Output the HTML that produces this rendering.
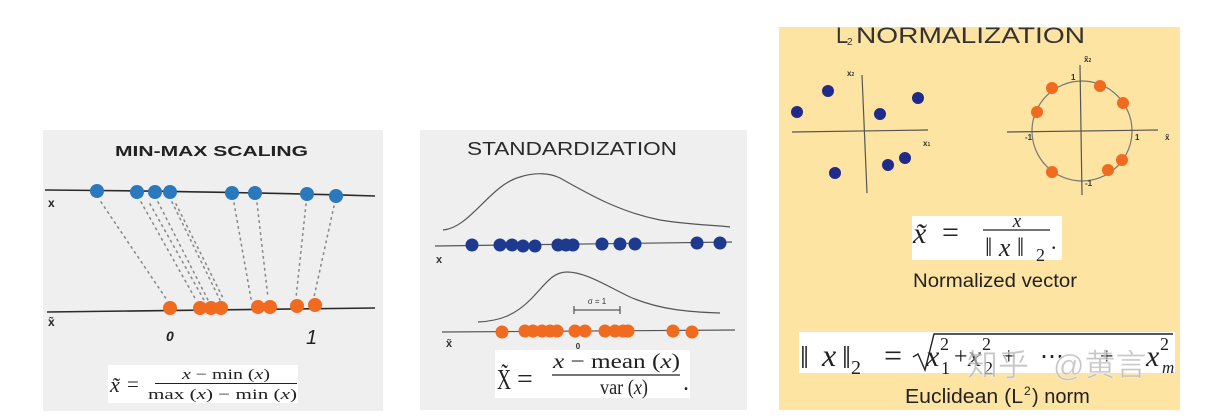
<!DOCTYPE html>
<html><head><meta charset="utf-8"><style>
html,body{margin:0;padding:0;background:#fff;width:1206px;height:420px;overflow:hidden}
svg{display:block}
</style></head><body>
<svg width="1206" height="420" viewBox="0 0 1206 420" xmlns="http://www.w3.org/2000/svg">
<defs>
<clipPath id="cp3"><rect x="779" y="27" width="401" height="383"/></clipPath>
</defs>
<rect width="1206" height="420" fill="#fff"/>

<!-- ================= LEFT PANEL ================= -->
<rect x="43" y="130" width="340" height="281" fill="#efefef"/>
<text x="115" y="156" font-family="Liberation Sans, sans-serif" font-size="15" font-weight="bold" fill="#222" textLength="193" lengthAdjust="spacingAndGlyphs">MIN-MAX SCALING</text>

<path d="M45,190 Q200,191 375,196" stroke="#2a2a2a" stroke-width="1.6" fill="none"/>
<text x="48" y="207" font-family="Liberation Sans, sans-serif" font-size="12" font-weight="bold" fill="#222">x</text>

<g stroke="#8a8a8a" stroke-width="1.6" stroke-dasharray="1.5,4.5" stroke-linecap="round" fill="none">
<line x1="101" y1="202" x2="167" y2="300"/>
<line x1="141" y1="202" x2="196" y2="300"/>
<line x1="150" y1="204" x2="204" y2="300"/>
<line x1="158" y1="202" x2="208" y2="300"/>
<line x1="172" y1="202" x2="220" y2="300"/>
<line x1="176" y1="204" x2="224" y2="300"/>
<line x1="234" y1="203" x2="251" y2="299"/>
<line x1="257" y1="203" x2="268" y2="298"/>
<line x1="306" y1="204" x2="296" y2="298"/>
<line x1="334" y1="206" x2="314" y2="297"/>
</g>

<g fill="#2b79bd">
<circle cx="97" cy="191" r="7"/>
<circle cx="137" cy="192" r="7"/>
<circle cx="155" cy="192" r="7"/>
<circle cx="170" cy="192" r="7"/>
<circle cx="232" cy="193" r="7"/>
<circle cx="255" cy="193" r="7"/>
<circle cx="307" cy="194" r="7"/>
<circle cx="336" cy="196" r="7"/>
</g>

<path d="M47,312 Q200,310 375,308" stroke="#2a2a2a" stroke-width="1.6" fill="none"/>
<g fill="#f06a1f">
<circle cx="170" cy="308" r="7"/>
<circle cx="200" cy="308" r="7"/>
<circle cx="211" cy="308" r="7"/>
<circle cx="221" cy="308" r="7"/>
<circle cx="258" cy="307" r="7"/>
<circle cx="270" cy="307" r="7"/>
<circle cx="297" cy="306" r="7"/>
<circle cx="315" cy="305" r="7"/>
</g>
<text x="48" y="326" font-family="Liberation Sans, sans-serif" font-size="12" font-weight="bold" fill="#222">x̃</text>
<text x="166" y="341" font-family="Liberation Sans, sans-serif" font-size="14" font-style="italic" font-weight="bold" fill="#222">0</text>
<text x="306" y="344" font-family="Liberation Sans, sans-serif" font-size="20" font-style="italic" fill="#222">1</text>

<rect x="108" y="365" width="190" height="38" fill="#fff"/>
<g font-family="Liberation Serif, serif" fill="#222">
<text x="110" y="392" font-size="22" font-style="italic">x̃</text>
<text x="127" y="391" font-size="21">=</text>
<text x="182" y="379" font-size="15" textLength="88" lengthAdjust="spacingAndGlyphs"><tspan font-style="italic">x</tspan> − min (<tspan font-style="italic">x</tspan>)</text>
<line x1="155" y1="383.5" x2="297" y2="383.5" stroke="#222" stroke-width="1"/>
<text x="148" y="399" font-size="15" textLength="149" lengthAdjust="spacingAndGlyphs">max (<tspan font-style="italic">x</tspan>) − min (<tspan font-style="italic">x</tspan>)</text>
</g>

<!-- ================= MIDDLE PANEL ================= -->
<rect x="420" y="130" width="327" height="280" fill="#efefef"/>
<text x="467" y="155" font-family="Liberation Sans, sans-serif" font-size="18" fill="#2a2a2a" textLength="210" lengthAdjust="spacingAndGlyphs">STANDARDIZATION</text>

<path d="M443,230 C470,228 490,185 520,177 C535,172 550,173 560,178 C590,195 620,212 660,220 C690,225 715,225 730,227" stroke="#555" stroke-width="1.2" fill="none"/>
<path d="M435,246 L732,242" stroke="#555" stroke-width="1.2" fill="none"/>
<g fill="#1d3a8f">
<circle cx="472" cy="245" r="6.5"/>
<circle cx="500" cy="245" r="6.5"/>
<circle cx="512" cy="245" r="6.5"/>
<circle cx="523" cy="246" r="6.5"/>
<circle cx="535" cy="246" r="6.5"/>
<circle cx="558" cy="245" r="6.5"/>
<circle cx="566" cy="245" r="6.5"/>
<circle cx="573" cy="245" r="6.5"/>
<circle cx="602" cy="244" r="6.5"/>
<circle cx="620" cy="244" r="6.5"/>
<circle cx="635" cy="244" r="6.5"/>
<circle cx="697" cy="243" r="6.5"/>
<circle cx="720" cy="243" r="6.5"/>
</g>
<text x="436" y="263" font-family="Liberation Sans, sans-serif" font-size="11" font-weight="bold" fill="#333">x</text>

<path d="M478,322 C500,321 515,315 530,300 C545,285 552,272 567,272 C585,272 605,285 630,297 C660,310 690,312 720,313" stroke="#555" stroke-width="1.2" fill="none"/>
<line x1="574" y1="310" x2="620" y2="310" stroke="#333" stroke-width="1"/>
<line x1="574" y1="306" x2="574" y2="314" stroke="#333" stroke-width="1"/>
<line x1="620" y1="306" x2="620" y2="314" stroke="#333" stroke-width="1"/>
<text x="597" y="304" font-family="Liberation Sans, sans-serif" font-size="8" text-anchor="middle" fill="#333">σ = 1</text>

<path d="M442,332 L735,330" stroke="#555" stroke-width="1.2" fill="none"/>
<g fill="#f06a1f">
<circle cx="502" cy="332" r="6.5"/>
<circle cx="525" cy="331" r="6.5"/>
<circle cx="533" cy="331" r="6.5"/>
<circle cx="542" cy="331" r="6.5"/>
<circle cx="550" cy="331" r="6.5"/>
<circle cx="557" cy="331" r="6.5"/>
<circle cx="575" cy="331" r="6.5"/>
<circle cx="585" cy="331" r="6.5"/>
<circle cx="605" cy="331" r="6.5"/>
<circle cx="615" cy="331" r="6.5"/>
<circle cx="623" cy="331" r="6.5"/>
<circle cx="628" cy="331" r="6.5"/>
<circle cx="673" cy="331" r="6.5"/>
<circle cx="692" cy="332" r="6.5"/>
</g>
<text x="446" y="347" font-family="Liberation Sans, sans-serif" font-size="11" font-weight="bold" fill="#333">x̃</text>
<text x="578" y="349" font-family="Liberation Sans, sans-serif" font-size="8" font-weight="bold" text-anchor="middle" fill="#333">0</text>

<rect x="495" y="350" width="195" height="48" fill="#fff"/>
<g font-family="Liberation Serif, serif" fill="#222">
<text x="497" y="389" font-size="28" textLength="14" lengthAdjust="spacingAndGlyphs">X̃</text>
<text x="517" y="388" font-size="28">=</text>
<text x="553" y="368" font-size="21" textLength="127" lengthAdjust="spacingAndGlyphs"><tspan font-style="italic">x</tspan> −  mean (<tspan font-style="italic">x</tspan>)</text>
<line x1="552" y1="375" x2="680" y2="375" stroke="#222" stroke-width="1.2"/>
<text x="600" y="394" font-size="21" textLength="48" lengthAdjust="spacingAndGlyphs">var (<tspan font-style="italic">x</tspan>)</text>
<text x="683" y="390" font-size="24">.</text>
</g>

<!-- ================= RIGHT PANEL ================= -->
<rect x="779" y="27" width="401" height="383" fill="#fde4a2"/>
<g clip-path="url(#cp3)" font-family="Liberation Sans, sans-serif" fill="#333">
<text x="836" y="43" font-size="22">L</text>
<text x="847" y="45" font-size="10">2</text>
<text x="856" y="43" font-size="22" textLength="229" lengthAdjust="spacingAndGlyphs">NORMALIZATION</text>
</g>

<!-- left scatter -->
<path d="M792,132 L928,130" stroke="#555" stroke-width="1.2"/>
<path d="M862,75 L867,193" stroke="#555" stroke-width="1.2"/>
<text x="847" y="76" font-family="Liberation Sans, sans-serif" font-size="8" font-weight="bold" fill="#333">x<tspan font-size="5">2</tspan></text>
<text x="923" y="146" font-family="Liberation Sans, sans-serif" font-size="8" font-weight="bold" fill="#333">x<tspan font-size="5">1</tspan></text>
<g fill="#1f2a8a">
<circle cx="828" cy="91" r="6"/>
<circle cx="797" cy="112" r="6"/>
<circle cx="880" cy="114" r="6"/>
<circle cx="918" cy="98" r="6"/>
<circle cx="835" cy="173" r="6"/>
<circle cx="888" cy="165" r="6"/>
<circle cx="905" cy="158" r="6"/>
</g>

<!-- right circle -->
<circle cx="1082" cy="131" r="50" stroke="#777" stroke-width="1.2" fill="none"/>
<path d="M1007,132 L1158,130" stroke="#555" stroke-width="1.2"/>
<path d="M1080,65 L1082,195" stroke="#555" stroke-width="1.2"/>
<g font-family="Liberation Sans, sans-serif" font-size="8" font-weight="bold" fill="#333">
<text x="1025" y="140">-1</text>
<text x="1135" y="140">1</text>
<text x="1071" y="80">1</text>
<text x="1085" y="186">-1</text>
<text x="1084" y="62">x̃<tspan font-size="5">2</tspan></text>
<text x="1165" y="140">x̃</text>
</g>
<g fill="#f06a1f">
<circle cx="1052" cy="88" r="6"/>
<circle cx="1100" cy="86" r="6"/>
<circle cx="1123" cy="103" r="6"/>
<circle cx="1037" cy="112" r="6"/>
<circle cx="1052" cy="172" r="6"/>
<circle cx="1108" cy="170" r="6"/>
<circle cx="1122" cy="160" r="6"/>
</g>

<!-- formula 1 -->
<rect x="912" y="216" width="150" height="44" fill="#fff"/>
<g font-family="Liberation Serif, serif" fill="#222">
<text x="913" y="243" font-size="30" font-style="italic">x̃</text>
<text x="942" y="242" font-size="30">=</text>
<text x="1017" y="227" font-size="19" font-style="italic" text-anchor="middle">x</text>
<line x1="983" y1="230" x2="1050" y2="230" stroke="#222" stroke-width="1.2"/>
<text x="985" y="256" font-size="26">‖ <tspan font-style="italic">x</tspan> ‖</text>
<text x="1036" y="261" font-size="18">2</text>
<text x="1051" y="249" font-size="22">.</text>
</g>
<text x="913" y="287" font-family="Liberation Sans, sans-serif" font-size="19" fill="#222" textLength="164" lengthAdjust="spacingAndGlyphs">Normalized vector</text>

<!-- formula 2 -->
<rect x="799" y="332" width="376" height="41" fill="#fff"/>
<g font-family="Liberation Serif, serif" fill="#222">
<text x="800" y="368" font-size="32">‖</text>
<text x="822" y="366" font-size="32" font-style="italic">x</text>
<text x="842" y="368" font-size="32">‖</text>
<text x="851" y="374" font-size="20">2</text>
<text x="884" y="366" font-size="32">=</text>
<path d="M913,357 L918,354 L925,370 L934,334 L1173,334" stroke="#222" stroke-width="1.4" fill="none"/>
<text x="926" y="366" font-size="30" font-style="italic">x</text>
<text x="940" y="350" font-size="18">2</text>
<text x="941" y="374" font-size="18">1</text>
<text x="954" y="364" font-size="24">+</text>
<text x="968" y="366" font-size="30" font-style="italic">x</text>
<text x="982" y="350" font-size="18">2</text>
<text x="984" y="374" font-size="18">2</text>
<text x="1002" y="364" font-size="24">+</text>
<text x="1040" y="364" font-size="24">⋯</text>
<text x="1100" y="364" font-size="24">+</text>
<text x="1146" y="366" font-size="30" font-style="italic">x</text>
<text x="1160" y="350" font-size="18">2</text>
<text x="1162" y="373" font-size="17" font-style="italic">m</text>
</g>
<g font-family="Liberation Sans, 'Noto Sans CJK SC', sans-serif" font-size="31" fill="#b4b4b4" fill-opacity="0.75" stroke="#fff" stroke-width="0.6" stroke-opacity="0.6">
<text x="967" y="376">知乎</text>
<text x="1053" y="376">@黄言</text>
</g>

<g font-family="Liberation Sans, sans-serif" font-size="20" fill="#222">
<text x="905" y="403" textLength="118" lengthAdjust="spacingAndGlyphs">Euclidean (L</text>
<text x="1024" y="395" font-size="12">2</text>
<text x="1032" y="403">) norm</text>
</g>
</svg>
</body></html>
